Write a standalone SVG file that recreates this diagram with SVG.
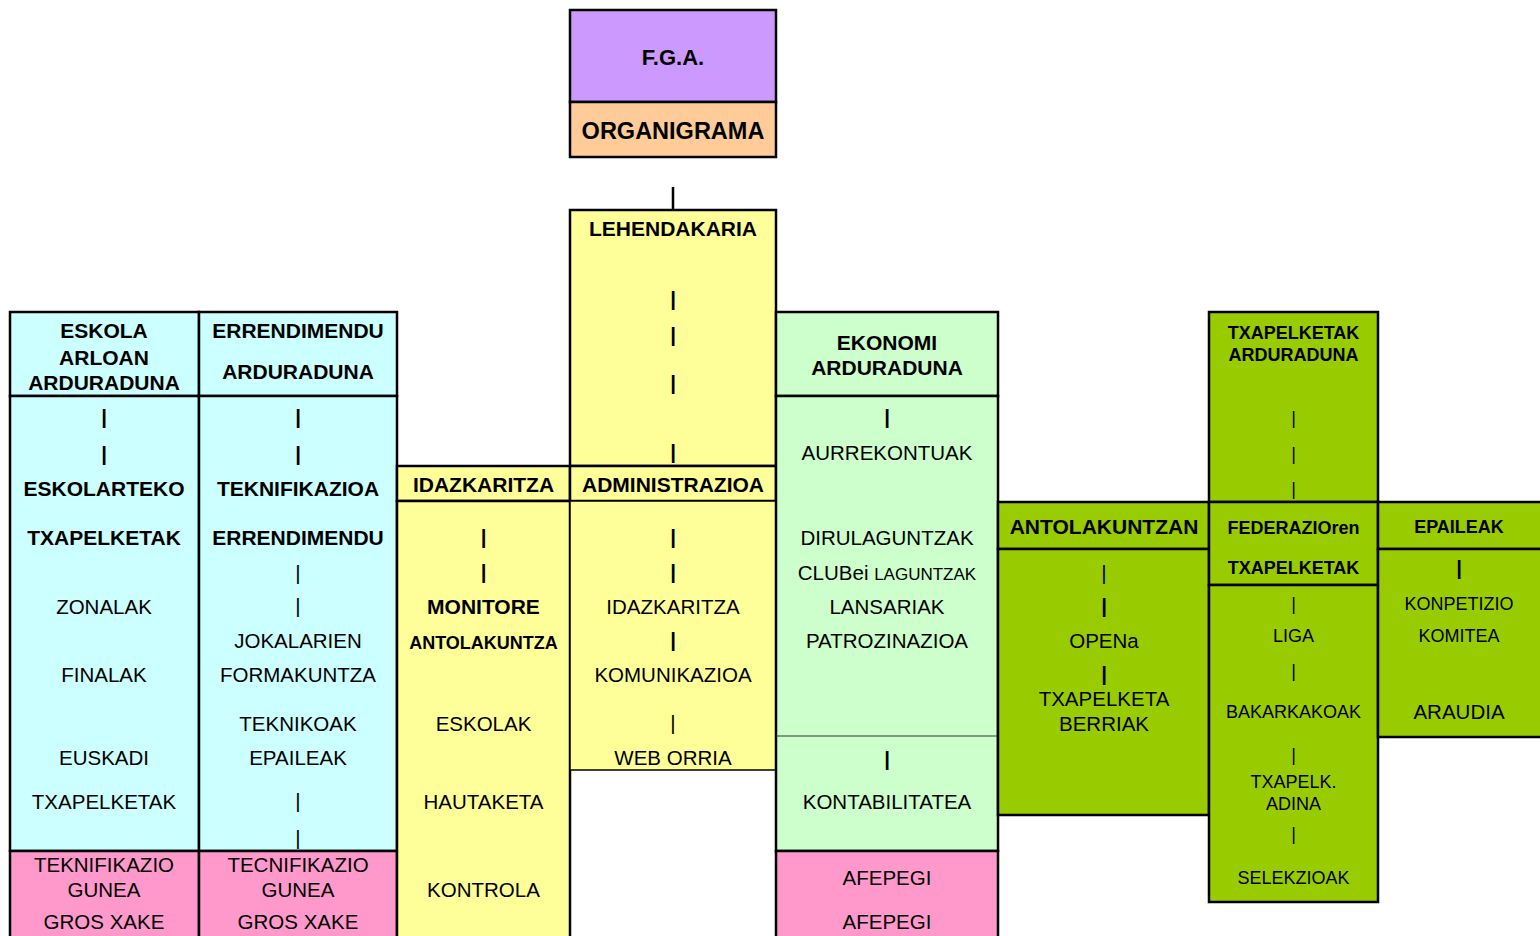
<svg xmlns="http://www.w3.org/2000/svg" width="1540" height="936" viewBox="0 0 1540 936">
<style>
rect{stroke:#000;stroke-width:2.5}
text{font-family:"Liberation Sans",Arial,sans-serif;fill:#000;text-anchor:middle}
.b{font-weight:bold;font-size:21px}
.r{font-size:20.5px}
.p{font-size:20.5px;font-weight:bold}
.sb{font-weight:bold;font-size:18px}
.s{font-size:18px}
.cy{fill:#CCFFFF}.pk{fill:#FF99CC}.ye{fill:#FFFF99}.lg{fill:#CCFFCC}.gr{fill:#99CC00}
</style>
<rect width="1540" height="936" style="fill:#fff;stroke:none"/>
<g id="connectors">
<line x1="673" y1="187" x2="673" y2="210" stroke="#000" stroke-width="2.5"/>
</g>
<g id="fga">
<rect x="570" y="10" width="206" height="92" fill="#CC99FF"/>
<text class="b" x="673" y="65" style="font-size:22px">F.G.A.</text>
</g>
<g id="organigrama">
<rect x="570" y="102" width="206" height="55" fill="#FFCC99"/>
<text class="b" x="673" y="138.5" style="font-size:23.5px">ORGANIGRAMA</text>
</g>
<g id="lehendakaria">
<rect class="ye" x="570" y="210" width="206" height="256"/>
<text class="b" x="673" y="235.5">LEHENDAKARIA</text>
<text class="p" x="673" y="306">|</text>
<text class="p" x="673" y="342">|</text>
<text class="p" x="673" y="390">|</text>
<text class="p" x="673" y="459">|</text>
</g>
<g id="eskola">
<rect class="cy" x="10" y="312" width="189" height="84"/>
<rect class="cy" x="10" y="396" width="189" height="455"/>
<rect class="pk" x="10" y="851" width="189" height="95"/>
<text class="b" x="104" y="337.5">ESKOLA</text>
<text class="b" x="104" y="364.5">ARLOAN</text>
<text class="b" x="104" y="389.5">ARDURADUNA</text>
<text class="p" x="104" y="424">|</text>
<text class="p" x="104" y="461">|</text>
<text class="b" x="104" y="495.5">ESKOLARTEKO</text>
<text class="b" x="104" y="544.5">TXAPELKETAK</text>
<text class="r" x="104" y="613.5">ZONALAK</text>
<text class="r" x="104" y="681.5">FINALAK</text>
<text class="r" x="104" y="764.5">EUSKADI</text>
<text class="r" x="104" y="808.5">TXAPELKETAK</text>
<text class="r" x="104" y="871.5">TEKNIFIKAZIO</text>
<text class="r" x="104" y="896.5">GUNEA</text>
<text class="r" x="104" y="928.5">GROS XAKE</text>
</g>
<g id="errendimendu">
<rect class="cy" x="199" y="312" width="198" height="84"/>
<rect class="cy" x="199" y="396" width="198" height="455"/>
<rect class="pk" x="199" y="851" width="198" height="95"/>
<text class="b" x="298" y="337.5">ERRENDIMENDU</text>
<text class="b" x="298" y="378.5">ARDURADUNA</text>
<text class="p" x="298" y="424">|</text>
<text class="p" x="298" y="461">|</text>
<text class="b" x="298" y="495.5">TEKNIFIKAZIOA</text>
<text class="b" x="298" y="544.5">ERRENDIMENDU</text>
<text class="r" x="298" y="580">|</text>
<text class="r" x="298" y="613">|</text>
<text class="r" x="298" y="647.5">JOKALARIEN</text>
<text class="r" x="298" y="681.5">FORMAKUNTZA</text>
<text class="r" x="298" y="730.5">TEKNIKOAK</text>
<text class="r" x="298" y="764.5">EPAILEAK</text>
<text class="r" x="298" y="808">|</text>
<text class="r" x="298" y="845">|</text>
<text class="r" x="298" y="871.5">TECNIFIKAZIO</text>
<text class="r" x="298" y="896.5">GUNEA</text>
<text class="r" x="298" y="928.5">GROS XAKE</text>
</g>
<g id="idazkaritza">
<rect class="ye" x="397" y="466" width="173" height="35"/>
<rect class="ye" x="397" y="501" width="173" height="445"/>
<text class="b" x="483.5" y="491.5">IDAZKARITZA</text>
<text class="p" x="483.5" y="544">|</text>
<text class="p" x="483.5" y="579">|</text>
<text class="b" x="483.5" y="613.5">MONITORE</text>
<text class="sb" x="483.5" y="648.5">ANTOLAKUNTZA</text>
<text class="r" x="483.5" y="730.5">ESKOLAK</text>
<text class="r" x="483.5" y="808.5">HAUTAKETA</text>
<text class="r" x="483.5" y="896.5">KONTROLA</text>
</g>
<g id="administrazioa">
<rect class="ye" x="570" y="466" width="206" height="35"/>
<rect class="ye" x="570" y="501" width="206" height="269" style="stroke-width:1.5"/>
<text class="b" x="673" y="491.5">ADMINISTRAZIOA</text>
<text class="p" x="673" y="544">|</text>
<text class="p" x="673" y="579">|</text>
<text class="r" x="673" y="613.5">IDAZKARITZA</text>
<text class="p" x="673" y="647">|</text>
<text class="r" x="673" y="681.5">KOMUNIKAZIOA</text>
<text class="r" x="673" y="730">|</text>
<text class="r" x="673" y="764.5">WEB ORRIA</text>
</g>
<g id="ekonomi">
<rect class="lg" x="776" y="312" width="222" height="84"/>
<rect class="lg" x="776" y="396" width="222" height="455"/>
<line x1="776" y1="736" x2="998" y2="736" stroke="#333" stroke-width="1"/>
<rect class="pk" x="776" y="851" width="222" height="95"/>
<text class="b" x="887" y="349.5">EKONOMI</text>
<text class="b" x="887" y="374.5">ARDURADUNA</text>
<text class="p" x="887" y="424">|</text>
<text class="r" x="887" y="459.5">AURREKONTUAK</text>
<text class="r" x="887" y="544.5">DIRULAGUNTZAK</text>
<text class="r" x="887" y="580">CLUBei <tspan style="font-size:17px">LAGUNTZAK</tspan></text>
<text class="r" x="887" y="613.5">LANSARIAK</text>
<text class="r" x="887" y="647.5">PATROZINAZIOA</text>
<text class="p" x="887" y="766">|</text>
<text class="r" x="887" y="808.5">KONTABILITATEA</text>
<text class="r" x="887" y="884.5">AFEPEGI</text>
<text class="r" x="887" y="928.5">AFEPEGI</text>
</g>
<g id="antolakuntzan">
<rect class="gr" x="998" y="502" width="211" height="47"/>
<rect class="gr" x="998" y="549" width="211" height="266"/>
<text class="b" x="1104" y="533.5">ANTOLAKUNTZAN</text>
<text class="r" x="1104" y="580">|</text>
<text class="p" x="1104" y="613">|</text>
<text class="r" x="1104" y="647.5">OPENa</text>
<text class="p" x="1104" y="681">|</text>
<text class="r" x="1104" y="705.5">TXAPELKETA</text>
<text class="r" x="1104" y="730.5">BERRIAK</text>
</g>
<g id="txapelketak-arduraduna">
<rect class="gr" x="1209" y="312" width="169" height="190"/>
<text class="sb" x="1293.5" y="338.5">TXAPELKETAK</text>
<text class="sb" x="1293.5" y="360.5">ARDURADUNA</text>
<text class="s" x="1293.5" y="424">|</text>
<text class="s" x="1293.5" y="460">|</text>
<text class="s" x="1293.5" y="495">|</text>
</g>
<g id="federazioren-txapelketak">
<rect class="gr" x="1209" y="502" width="169" height="83"/>
<text class="sb" x="1293.5" y="533.5">FEDERAZIOren</text>
<text class="sb" x="1293.5" y="573.5">TXAPELKETAK</text>
</g>
<g id="txapelketak-body">
<rect class="gr" x="1209" y="585" width="169" height="317"/>
<text class="s" x="1293.5" y="610">|</text>
<text class="s" x="1293.5" y="641.5">LIGA</text>
<text class="s" x="1293.5" y="677">|</text>
<text class="s" x="1293.5" y="717.5">BAKARKAKOAK</text>
<text class="s" x="1293.5" y="761">|</text>
<text class="s" x="1293.5" y="787.5">TXAPELK.</text>
<text class="s" x="1293.5" y="809.5">ADINA</text>
<text class="s" x="1293.5" y="840">|</text>
<text class="s" x="1293.5" y="883.5">SELEKZIOAK</text>
</g>
<g id="epaileak">
<rect class="gr" x="1378" y="502" width="170" height="47"/>
<rect class="gr" x="1378" y="549" width="170" height="188"/>
<text class="sb" x="1459" y="532.5">EPAILEAK</text>
<text class="p" x="1459" y="575">|</text>
<text class="s" x="1459" y="609.5">KONPETIZIO</text>
<text class="s" x="1459" y="641.5">KOMITEA</text>
<text class="r" x="1459" y="718.5">ARAUDIA</text>
</g>
</svg>
